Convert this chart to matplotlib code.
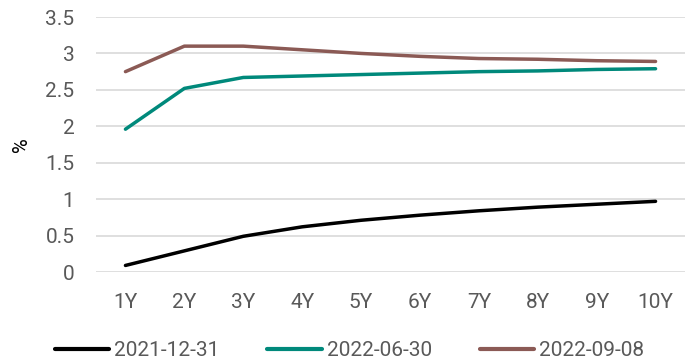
import matplotlib
matplotlib.use("Agg")
import matplotlib.pyplot as plt
import numpy as np

categories = ["1Y", "2Y", "3Y", "4Y", "5Y", "6Y", "7Y", "8Y", "9Y", "10Y"]
s2021_12_31 = [0.09, 0.29, 0.49, 0.62, 0.71, 0.78, 0.84, 0.89, 0.93, 0.97]
s2022_06_30 = [1.96, 2.52, 2.67, 2.69, 2.71, 2.73, 2.75, 2.76, 2.78, 2.79]
s2022_09_08 = [2.75, 3.10, 3.10, 3.05, 3.00, 2.96, 2.93, 2.92, 2.90, 2.89]
series_names = ["2021-12-31", "2022-06-30", "2022-09-08"]
colors = ["#000000", "#00897B", "#8B5A55"]
yticks = [0, 0.5, 1, 1.5, 2, 2.5, 3, 3.5]
ytick_labels = ["0", "0.5", "1", "1.5", "2", "2.5", "3", "3.5"]

plt.rcParams['font.family'] = ['Roboto', 'DejaVu Sans']
fig = plt.figure(figsize=(6.85, 3.63), dpi=100)
ax = fig.add_axes([96/685, 1-272/363, (685-96)/685, (272-17)/363])

x = np.arange(len(categories))
for vals, name, c in zip([s2021_12_31, s2022_06_30, s2022_09_08], series_names, colors):
    ax.plot(x, vals, color=c, lw=2.5, label=name, solid_capstyle='round', clip_on=False)

ax.set_xlim(-0.5, len(categories) - 0.5)
ax.set_ylim(0, 3.5)
ax.set_yticks(yticks)
ax.set_yticklabels(ytick_labels)
ax.set_xticks(x)
ax.set_xticklabels(categories)
ax.tick_params(axis='both', length=0, labelsize=15, colors='#595959')
ax.tick_params(axis='y', pad=15.5)
ax.tick_params(axis='x', pad=15)
for s in ax.spines.values():
    s.set_visible(False)
ax.grid(axis='y', color='#D9D9D9', lw=1.2)
ax.set_axisbelow(True)
ax.set_ylabel('%', fontsize=14.5, color='#000000')
ax.yaxis.set_label_coords((31 - 96) / 589, 0.5)

leg = fig.legend(loc='center', bbox_to_anchor=(0.5 + 7/685, 1-351/363), ncol=3, frameon=False,
                 fontsize=15, handlelength=2.6, handletextpad=0.25, columnspacing=2.3)
for t in leg.get_texts():
    t.set_color('#595959')
for h in leg.get_lines():
    h.set_linewidth(3)

fig.savefig('out.png', dpi=100)
